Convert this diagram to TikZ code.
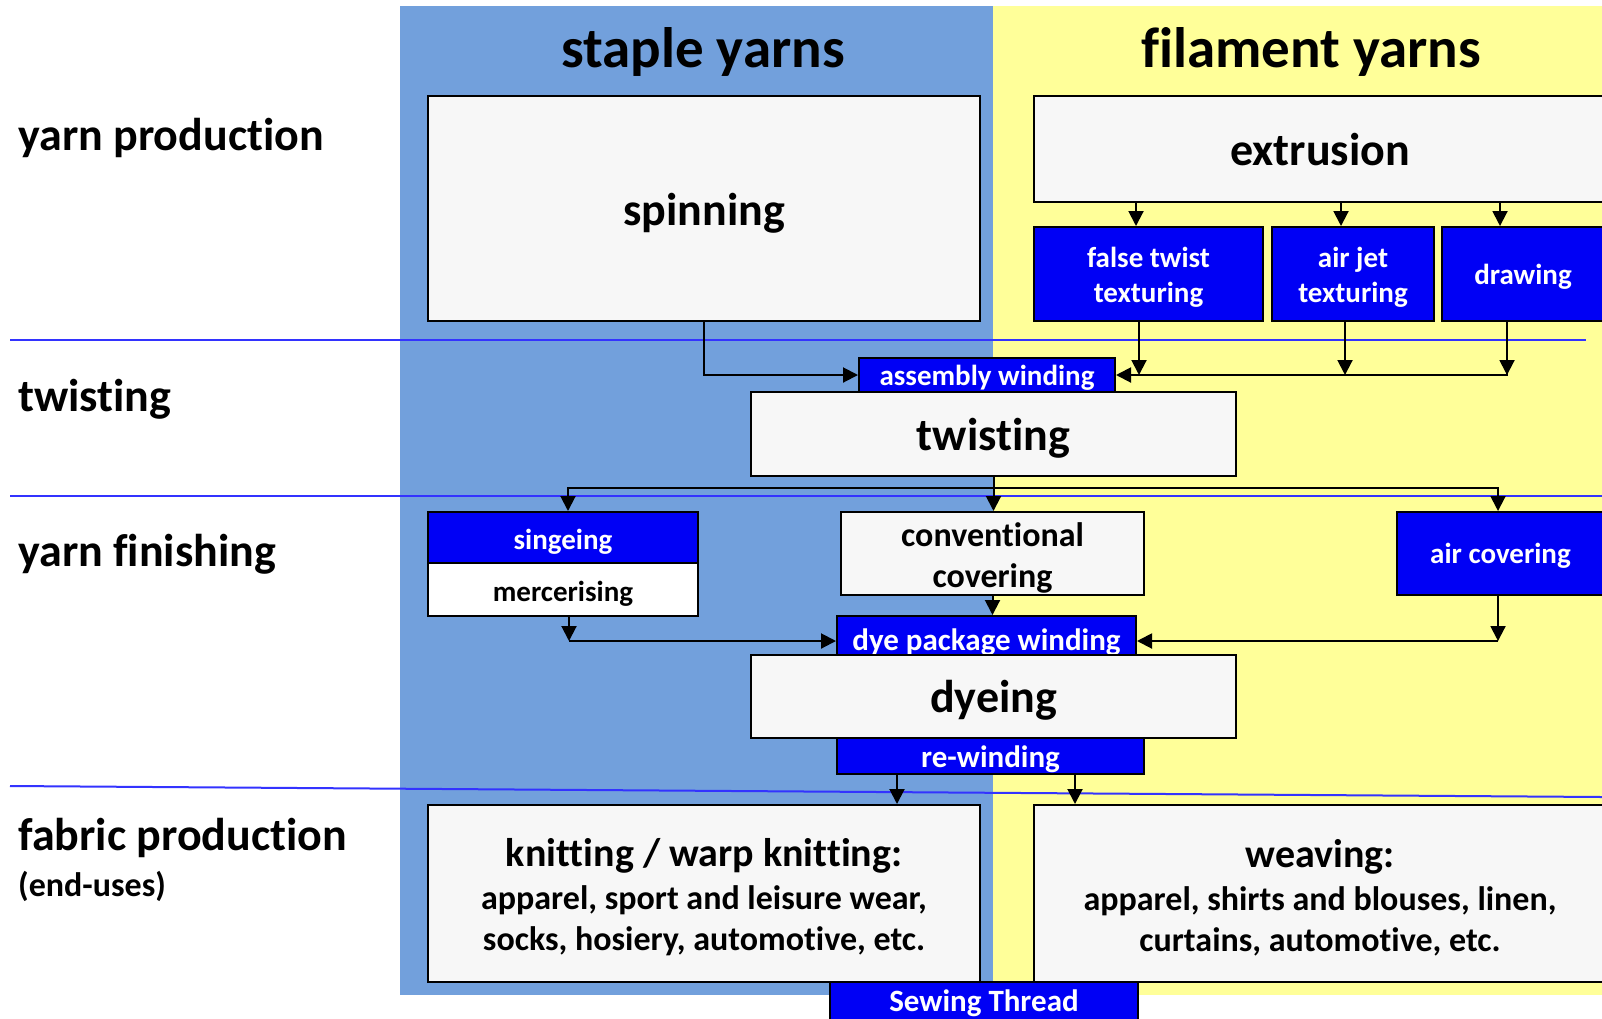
\documentclass[tikz,border=0pt]{standalone}
\usepackage{fontspec}
\setmainfont{Carlito}[Ligatures=NoCommon]
\usetikzlibrary{arrows.meta,calc}
\definecolor{bgblue}{RGB}{114,160,220}
\definecolor{bgyel}{RGB}{255,255,153}
\definecolor{boxgray}{RGB}{247,247,247}
\definecolor{bbox}{RGB}{0,0,245}
\definecolor{sepline}{RGB}{51,51,255}
\newcommand{\fsz}[2]{\fontsize{#1}{#2}\selectfont}
\newcommand{\dn}[2]{\raisebox{-#1pt}[\height][\depth]{#2}}
\begin{document}
\begin{tikzpicture}[x=1pt,y=-1pt,
  graybox/.style={draw=black, line width=2pt, fill=boxgray, inner sep=0pt, align=center},
  whitebox/.style={draw=black, line width=2pt, fill=white, inner sep=0pt, align=center},
  bluebox/.style={draw=black, line width=2pt, fill=bbox, text=white, inner sep=0pt, align=center},
  arr/.style={draw=black, line width=2pt, -{Triangle[length=15pt,width=15pt]}},
  wire/.style={draw=black, line width=2pt},
  sep/.style={draw=sepline, line width=2pt},
  lbl/.style={anchor=west, inner sep=0pt, font=\bfseries\fsz{46}{55}},
  big/.style={font=\bfseries\fsz{46}{55}},
  small/.style={font=\bfseries\fsz{29}{35}},
  mid/.style={font=\bfseries\fsz{31}{37}},
  conv/.style={font=\bfseries\fsz{34}{41}}
]
\useasboundingbox (0,0) rectangle (1602,1018);
\fill[white] (0,0) rectangle (1602,1018);
% backgrounds
\fill[bgblue] (400,6) rectangle (993,995);
\fill[bgyel] (993,6) rectangle (1602,995);
% separator lines
\draw[sep] (10,340) -- (1586,340);
\draw[sep] (10,496) -- (1602,496);
\draw[sep] (10,786) -- (1602,797);
% left labels
\node[lbl] (lp) at (18,138) {yarn production};
\node[lbl] (lt) at (18,399) {twisting};
\node[lbl] (lf) at (18,554) {yarn finishing};
\node[lbl] (lfp) at (18,838) {fabric production};
\node[anchor=west, inner sep=0pt, font=\bfseries\fsz{34}{41}] (leu) at (18,886) {(end-uses)};
% headers
\node[inner sep=0pt, font=\bfseries\fsz{57}{68}] (hs) at (703,52) {staple yarns};
\node[inner sep=0pt, font=\bfseries\fsz{57}{68}] (hf) at (1311,52) {filament yarns};
% yarn production boxes
\node[graybox, big, minimum width=552pt, minimum height=225pt] (spin) at (704,208.5) {\dn{5}{spinning}};
\node[graybox, big, minimum width=576pt, minimum height=106pt] (ext) at (1322,149) {\hspace*{-4pt}\dn{1}{extrusion}};
\node[bluebox, small, minimum width=229pt, minimum height=94pt] (ftt) at (1148.5,274) {\dn{3}{false twist}\\\dn{3}{texturing}};
\node[bluebox, small, minimum width=162pt, minimum height=94pt] (ajt) at (1353,274) {\dn{3}{air jet}\\\dn{3}{texturing}};
\node[bluebox, small, minimum width=168pt, minimum height=94pt] (drw) at (1526,274) {\hspace*{-6pt}\dn{3}{drawing}};
% twisting
\node[bluebox, small, minimum width=256pt, minimum height=34pt] (asm) at (987,375) {\dn{3}{assembly winding}};
\node[graybox, big, minimum width=485pt, minimum height=84pt] (twist) at (993.5,434) {\dn{4}{twisting}};
% yarn finishing
\node[bluebox, small, minimum width=270pt, minimum height=51pt] (sing) at (563,537.5) {\dn{4}{singeing}};
\node[whitebox, small, minimum width=270pt, minimum height=53pt] (merc) at (563,589.5) {\dn{4}{mercerising}};
\node[graybox, conv, minimum width=303pt, minimum height=83pt] (conv) at (992.5,553.5) {\dn{4}{conventional}\\\dn{4}{covering}};
\node[bluebox, small, minimum width=213pt, minimum height=83pt] (airc) at (1503.5,553.5) {\hspace*{-6pt}\dn{2}{air covering}};
% dyeing
\node[bluebox, mid, minimum width=299pt, minimum height=50pt] (dye) at (986.5,641) {\dn{1}{dye package winding}};
\node[bluebox, mid, minimum width=307pt, minimum height=36pt] (rew) at (990.5,756) {\dn{3}{re-winding}};
\node[graybox, big, minimum width=485pt, minimum height=83pt] (dyeing) at (993.5,696.5) {\dn{4}{dyeing}};
% fabric production
\node[graybox, minimum width=552pt, minimum height=177pt, font=\bfseries\fsz{34}{41}] (knit) at (704,893.5)
  {\dn{4}{\fsz{40}{45}knitting / warp knitting:}\\[2pt]\dn{4}{apparel, sport and leisure wear,}\\\dn{4}{socks, hosiery, automotive, etc.}};
\node[graybox, minimum width=576pt, minimum height=177pt, font=\bfseries\fsz{34}{41}] (weav) at (1322,893.5)
  {\hspace*{-4pt}\dn{4}{\fsz{40}{45}weaving:}\\[2pt]\hspace*{-4pt}\dn{4}{apparel, shirts and blouses, linen,}\\\hspace*{-4pt}\dn{4}{curtains, automotive, etc.}};
\node[bluebox, mid, minimum width=308pt, minimum height=40pt] (sew) at (984,1002) {\dn{1}{Sewing Thread}};
% connectors: extrusion to texturing
\coordinate (ea) at (1136,0);
\coordinate (eb) at (1341,0);
\coordinate (ec) at (1500,0);
\draw[arr] (ext.south -| ea) -- (ftt.north -| ea);
\draw[arr] (ext.south -| eb) -- (ajt.north -| eb);
\draw[arr] (ext.south -| ec) -- (drw.north -| ec);
% to assembly winding
\draw[arr] (spin.south) |- (asm.west);
\coordinate (ja) at (1139,375);
\coordinate (jb) at (1345,375);
\coordinate (jc) at (1507,375);
\draw[wire] (drw.south -| jc) -- (jc) -- (ja);
\draw[arr] (ja) -- (asm.east);
\draw[arr] (ftt.south -| ja) -- (ja);
\draw[arr] (ajt.south -| jb) -- (jb);
\draw[arr] (drw.south -| jc) -- (jc);
% twisting distribution
\coordinate (ba) at (568,488);
\coordinate (bc) at (1498,488);
\draw[arr] (twist.south |- ba) -| (sing.north -| ba);
\draw[arr] (twist.south |- ba) -| (airc.north -| bc);
\draw[arr] (twist.south) -- (conv.north -| twist.south);
% to dye package winding
\coordinate (ma) at (569,641);
\coordinate (mc) at (1498,641);
\draw[arr] (merc.south -| ma) -- (ma);
\draw[arr] (ma) -- (dye.west);
\draw[arr] (airc.south -| mc) -- (mc);
\draw[arr] (mc) -- (dye.east);
\draw[arr] (conv.south) -- (dye.north -| conv.south);
% re-winding to fabric
\coordinate (ra) at (897,0);
\coordinate (rb) at (1075,0);
\draw[arr] (rew.south -| ra) -- (knit.north -| ra);
\draw[arr] (rew.south -| rb) -- (weav.north -| rb);
\end{tikzpicture}
\end{document}
